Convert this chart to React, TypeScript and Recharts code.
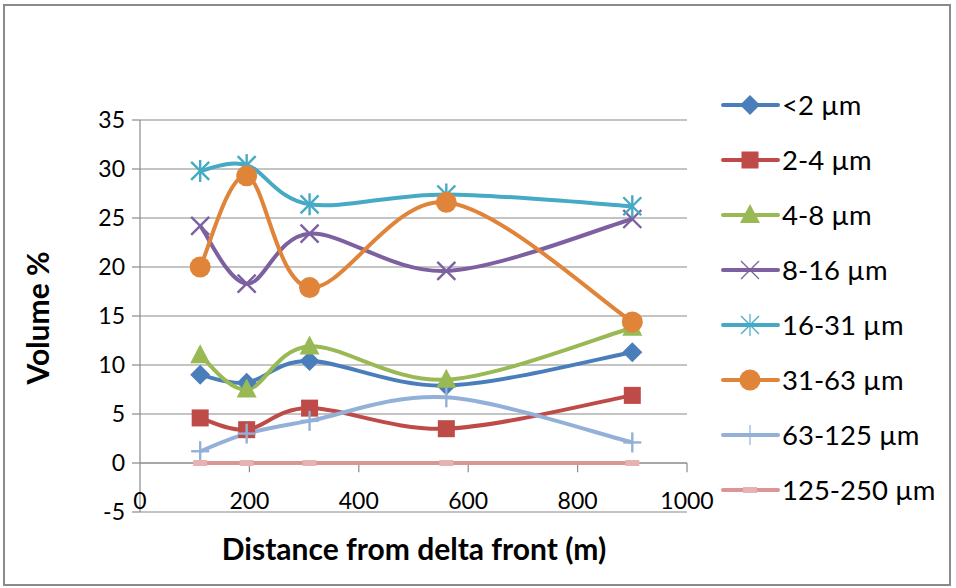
import { LineChart, Line, XAxis, YAxis, CartesianGrid, ReferenceLine } from 'recharts'

// sampling stations, metres from the delta front
const distances = [110, 195, 310, 560, 900]

// volume % per grain-size class at each station
const lt2 = [9.0, 8.2, 10.4, 7.9, 11.3]
const s2to4 = [4.6, 3.4, 5.6, 3.5, 6.9]
const s4to8 = [11.0, 7.5, 11.9, 8.5, 13.8]
const s8to16 = [24.2, 18.3, 23.4, 19.6, 24.9]
const s16to31 = [29.8, 30.4, 26.4, 27.4, 26.2]
const s31to63 = [20.0, 29.3, 17.9, 26.6, 14.4]
const s63to125 = [1.2, 3.0, 4.3, 6.7, 2.1]
const s125to250 = [0, 0, 0, 0, 0]

const xTicks = [0, 200, 400, 600, 800, 1000]
const yTicks = [-5, 0, 5, 10, 15, 20, 25, 30, 35]

type Shape = 'diamond' | 'square' | 'triangle' | 'x' | 'star' | 'circle' | 'plus' | 'dash'

const series: { key: string; name: string; values: number[]; color: string; shape: Shape }[] = [
  { key: 'lt2', name: '<2 µm', values: lt2, color: '#4A7EBB', shape: 'diamond' },
  { key: 's2to4', name: '2-4 µm', values: s2to4, color: '#BE4B48', shape: 'square' },
  { key: 's4to8', name: '4-8 µm', values: s4to8, color: '#98B954', shape: 'triangle' },
  { key: 's8to16', name: '8-16 µm', values: s8to16, color: '#7D60A0', shape: 'x' },
  { key: 's16to31', name: '16-31 µm', values: s16to31, color: '#46AAC5', shape: 'star' },
  { key: 's31to63', name: '31-63 µm', values: s31to63, color: '#E0843A', shape: 'circle' },
  { key: 's63to125', name: '63-125 µm', values: s63to125, color: '#93B1D8', shape: 'plus' },
  { key: 's125to250', name: '125-250 µm', values: s125to250, color: '#DA9694', shape: 'dash' },
]

const data = distances.map((x, i) => {
  const row: Record<string, number> = { x }
  series.forEach((s) => (row[s.key] = s.values[i]))
  return row
})

// Catmull-Rom style smoothing, like a spreadsheet "smoothed line"
function smoothCurve(context: any) {
  let pts: [number, number][] = []
  return {
    areaStart() {},
    areaEnd() {},
    lineStart() {
      pts = []
    },
    point(x: number, y: number) {
      pts.push([+x, +y])
    },
    lineEnd() {
      const n = pts.length
      if (!n) return
      context.moveTo(pts[0][0], pts[0][1])
      for (let i = 0; i < n - 1; i++) {
        const p0 = pts[Math.max(i - 1, 0)]
        const p1 = pts[i]
        const p2 = pts[i + 1]
        const p3 = pts[Math.min(i + 2, n - 1)]
        context.bezierCurveTo(
          p1[0] + (p2[0] - p0[0]) / 6,
          p1[1] + (p2[1] - p0[1]) / 6,
          p2[0] - (p3[0] - p1[0]) / 6,
          p2[1] - (p3[1] - p1[1]) / 6,
          p2[0],
          p2[1]
        )
      }
    },
  }
}

function Marker({ shape, cx, cy, color, thin }: { shape: Shape; cx: number; cy: number; color: string; thin?: boolean }) {
  const sw = thin ? 1.2 : 2.4
  switch (shape) {
    case 'diamond':
      return <polygon points={`${cx},${cy - 10} ${cx + 10},${cy} ${cx},${cy + 10} ${cx - 10},${cy}`} fill={color} />
    case 'square':
      return <rect x={cx - 8.5} y={cy - 8.5} width={17} height={17} fill={color} />
    case 'triangle':
      return <polygon points={`${cx},${cy - 11} ${cx + 10},${cy + 8} ${cx - 10},${cy + 8}`} fill={color} />
    case 'x':
      return (
        <g stroke={color} strokeWidth={sw}>
          <line x1={cx - 9} y1={cy - 9} x2={cx + 9} y2={cy + 9} />
          <line x1={cx - 9} y1={cy + 9} x2={cx + 9} y2={cy - 9} />
        </g>
      )
    case 'star':
      return (
        <g stroke={color} strokeWidth={sw}>
          <line x1={cx - 9} y1={cy - 9} x2={cx + 9} y2={cy + 9} />
          <line x1={cx - 9} y1={cy + 9} x2={cx + 9} y2={cy - 9} />
          <line x1={cx} y1={cy - 11} x2={cx} y2={cy + 11} />
        </g>
      )
    case 'circle':
      return <circle cx={cx} cy={cy} r={10.5} fill={color} />
    case 'plus':
      return (
        <g stroke={color} strokeWidth={sw}>
          <line x1={cx - 9} y1={cy} x2={cx + 9} y2={cy} />
          <line x1={cx} y1={cy - 10} x2={cx} y2={cy + 10} />
        </g>
      )
    case 'dash':
      return <rect x={cx - 7} y={cy - 3} width={14} height={6} fill="#E6B3B2" />
  }
}

const font = 'Lato, "Open Sans", sans-serif'

function XTick({ x, y, payload }: any) {
  return (
    <text x={x} y={y} dy={-3} textAnchor="middle" fontSize={23} fontFamily={font} fill="#000">
      {payload.value}
    </text>
  )
}

function ChartLegend() {
  return (
    <svg width={240} height={440} style={{ position: 'absolute', left: 716, top: 78 }}>
      {series.map((s, i) => {
        const cy = 27 + i * 55
        return (
          <g key={s.key}>
            <line x1={7} x2={62} y1={cy} y2={cy} stroke={s.color} strokeWidth={4} strokeLinecap="round" />
            <Marker shape={s.shape} cx={34} cy={cy} color={s.color} thin />
            <text x={66} y={cy} dy={10} fontSize={27.5} fontFamily={font} fill="#000">
              {s.name}
            </text>
          </g>
        )
      })}
    </svg>
  )
}

export default function App() {
  return (
    <div style={{ position: 'absolute', left: 0, top: 0, width: 956, height: 588, background: '#fff' }}>
      <div
        style={{
          position: 'absolute',
          left: 3,
          top: 4,
          width: 944,
          height: 578,
          border: '2px solid #8a8a8a',
        }}
      />
      <LineChart
        width={956}
        height={588}
        data={data}
        margin={{ top: 120, right: 269, bottom: 36, left: 80 }}
        style={{ position: 'absolute', left: 0, top: 0 }}
      >
        <CartesianGrid horizontal vertical={false} stroke="#8a8a8a" strokeWidth={1.2} />
        <XAxis
          dataKey="x"
          type="number"
          domain={[0, 1000]}
          ticks={xTicks}
          height={40}
          axisLine={false}
          tickLine={false}
          tickSize={0}
          tickMargin={0}
          tick={<XTick />}
          interval={0}
        />
        <YAxis
          type="number"
          domain={[-5, 35]}
          ticks={yTicks}
          width={60}
          interval={0}
          axisLine={{ stroke: '#8a8a8a', strokeWidth: 1.2 }}
          tickLine={{ stroke: '#8a8a8a', strokeWidth: 1.2 }}
          tickSize={8}
          tickMargin={7}
          tick={{ fontSize: 23, fontFamily: font, fill: '#000' }}
        />
        <ReferenceLine y={0} stroke="#8a8a8a" strokeWidth={1.2} />
        {xTicks.slice(1).map((t) => (
          <ReferenceLine
            key={t}
            segment={[
              { x: t, y: 0 },
              { x: t, y: -0.95 },
            ]}
            stroke="#8a8a8a"
            strokeWidth={1.2}
          />
        ))}
        {series.map((s) => (
          <Line
            key={s.key}
            dataKey={s.key}
            name={s.name}
            type={smoothCurve as any}
            stroke={s.color}
            strokeWidth={4}
            isAnimationActive={false}
            activeDot={false}
            dot={(p: any) => <Marker key={`${s.key}-${p.index}`} shape={s.shape} cx={p.cx} cy={p.cy} color={s.color} />}
          />
        ))}
      </LineChart>
      <ChartLegend />
      <div
        style={{
          position: 'absolute',
          left: 37,
          top: 318,
          transform: 'translate(-50%, -50%) rotate(-90deg)',
          fontFamily: font,
          fontWeight: 700,
          fontSize: 30,
          whiteSpace: 'nowrap',
        }}
      >
        Volume %
      </div>
      <div
        style={{
          position: 'absolute',
          left: 414,
          top: 548,
          transform: 'translate(-50%, -50%)',
          fontFamily: font,
          fontWeight: 700,
          fontSize: 30,
          whiteSpace: 'nowrap',
        }}
      >
        Distance from delta front (m)
      </div>
    </div>
  )
}
